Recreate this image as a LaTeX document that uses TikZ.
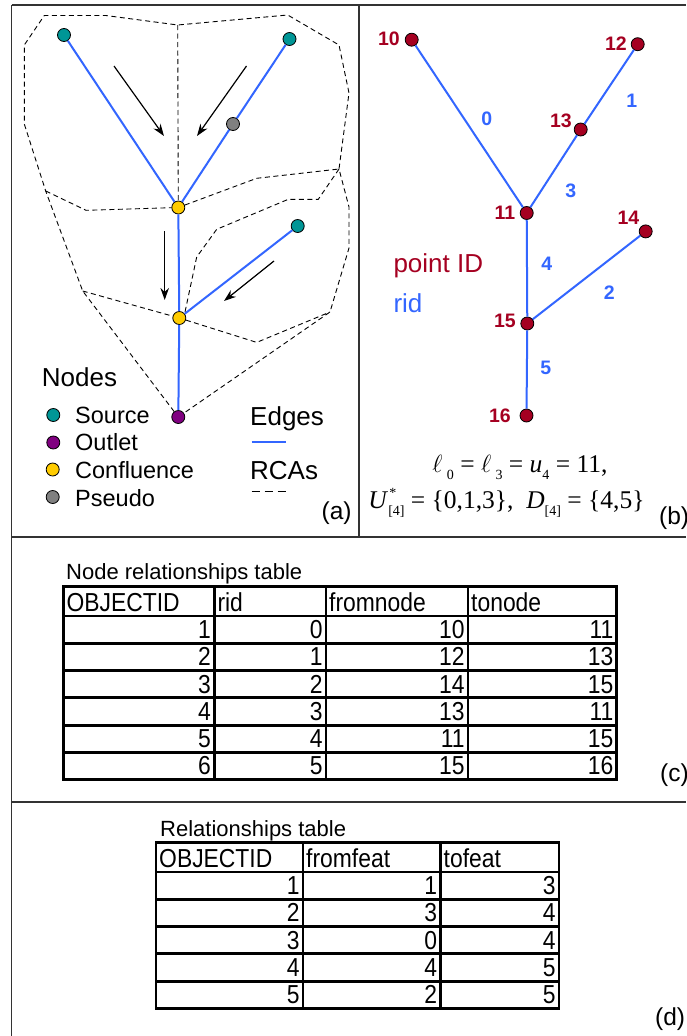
\documentclass[tikz,border=0pt]{standalone}
\usepackage[no-math]{fontspec}
\setmainfont{Liberation Sans}
\newfontfamily\narrowfont[FakeStretch=0.88]{Liberation Sans}
\newfontfamily\tms{Liberation Serif}
\usetikzlibrary{arrows.meta}
\definecolor{edgeblue}{RGB}{51,102,255}
\definecolor{srccol}{RGB}{0,150,150}
\definecolor{outcol}{RGB}{128,0,128}
\definecolor{confcol}{RGB}{255,204,0}
\definecolor{pseudocol}{RGB}{128,128,128}
\definecolor{ptred}{RGB}{165,0,33}
\newcommand\fsz[1]{\fontsize{#1}{#1}\selectfont}
\newcommand\sbs[1]{\raisebox{-0.28em}{\fontsize{14}{14}\selectfont #1}}
\newcommand\sps[1]{\raisebox{0.42em}{\fontsize{14}{14}\selectfont #1}}
\tikzset{
  dot/.style={circle, draw=black, line width=0.8pt, minimum size=13pt, inner sep=0pt},
  srcdot/.style={dot, fill=srccol},
  outdot/.style={dot, fill=outcol},
  confdot/.style={dot, fill=confcol},
  pseudodot/.style={dot, fill=pseudocol},
  ptdot/.style={dot, fill=ptred},
  edge/.style={draw=edgeblue, line width=2pt},
  rca/.style={draw=black, line width=0.9pt, dash pattern=on 5pt off 3.5pt},
  flow/.style={draw=black, line width=1.2pt, -{Stealth[length=12pt,width=8.5pt]}},
  ptlab/.style={text=ptred, font=\fsz{19.5}\bfseries, inner sep=0pt},
  ridlab/.style={text=edgeblue, font=\fsz{19.5}\bfseries, inner sep=0pt},
  frameline/.style={draw=black!80, line width=1.3pt},
  tbl/.style={draw=black, line width=2.8pt, line cap=rect},
  ttitle/.style={font=\fsz{22}, anchor=base west, inner sep=0pt},
  hdr/.style={font=\narrowfont\fsz{26}, anchor=base west, inner sep=0pt},
  cell/.style={font=\narrowfont\fsz{26}, anchor=base east, inner sep=0pt},
  legtext/.style={font=\fsz{23.5}, anchor=base west, inner sep=0pt},
  bigtext/.style={font=\fsz{26}, anchor=base west, inner sep=0pt},
  panellab/.style={font=\fsz{24.5}, anchor=west, inner sep=0pt},
  formula/.style={font=\tms\fsz{25.5}, anchor=base, inner sep=0pt}
}
\begin{document}
\begin{tikzpicture}[x=1pt,y=-1pt]
\useasboundingbox (0,0) rectangle (686,1036);
\clip (0,0) rectangle (686,1036);
\fill[white] (0,0) rectangle (686,1036);

% ---------- frame ----------
\draw[frameline] (11.5,5) -- (686,5);
\draw[frameline] (11.5,5) -- (11.5,1036);
\draw[frameline] (359,5) -- (359,537);
\draw[frameline] (11.5,537) -- (686,537);
\draw[frameline] (11.5,802) -- (686,802);

% ---------- panel (a) ----------
\node[srcdot] (s1) at (64,35) {};
\node[srcdot] (s2) at (289.5,39) {};
\node[pseudodot] (ps) at (233,124) {};
\node[confdot] (c1) at (178.3,207.5) {};
\node[srcdot] (s3) at (297.7,226) {};
\node[confdot] (c2) at (179.3,318) {};
\node[outdot] (ou) at (178.3,417) {};

% RCA boundaries
\coordinate (p1) at (24.3,45);
\coordinate (p2) at (44.3,15.5);
\coordinate (p3) at (105.7,15.5);
\coordinate (p4) at (177.7,25);
\coordinate (p5) at (287.7,15);
\coordinate (p6) at (339,45);
\coordinate (p7) at (349,93);
\coordinate (p8) at (339,169);
\coordinate (p9) at (349,207);
\coordinate (p10) at (349,248);
\coordinate (p11) at (330,312);
\coordinate (l1) at (24.3,124);
\coordinate (l2) at (45.7,191);
\coordinate (l3) at (82.7,291);
\coordinate (q1) at (86,210.3);
\coordinate (r1) at (256.7,178.3);
\coordinate (i1) at (318.3,199.3);
\coordinate (i2) at (288.3,199.3);
\coordinate (i3) at (216.7,229.3);
\coordinate (i4) at (196.7,257);
\coordinate (i5) at (185,312);
\coordinate (b1) at (256.7,342.4);
\draw[rca] (ou) -- (l3) -- (l2) -- (l1) -- (p1) -- (p2) -- (p3) -- (p4) -- (p5) -- (p6) -- (p7) -- (p8) -- (p9) -- (p10) -- (p11) -- (ou);
\draw[rca] (p4) -- (c1);
\draw[rca] (l2) -- (q1) -- (c1);
\draw[rca] (c1) -- (r1) -- (p8);
\draw[rca] (p8) -- (i1) -- (i2) -- (i3) -- (i4) -- (i5) -- (c2);
\draw[rca] (l3) -- (c2) -- (b1) -- (p11);

% edges
\draw[edge] (s1) -- (c1);
\draw[edge] (s2) -- (ps);
\draw[edge] (ps) -- (c1);
\draw[edge] (c1) -- (c2);
\draw[edge] (s3) -- (c2);
\draw[edge] (c2) -- (ou);

% flow arrows
\coordinate (a1s) at (114,66);   \coordinate (a1e) at (164,136);
\coordinate (a2s) at (246.5,66); \coordinate (a2e) at (197,136);
\coordinate (a3s) at (164.7,231); \coordinate (a3e) at (164.7,300);
\coordinate (a4s) at (274,261);  \coordinate (a4e) at (224,301);
\draw[flow] (a1s) -- (a1e);
\draw[flow] (a2s) -- (a2e);
\draw[flow] (a3s) -- (a3e);
\draw[flow] (a4s) -- (a4e);

% legend
\node[bigtext] (lnodes) at (41.7,386) {Nodes};
\node[srcdot] (lsrc) at (53.3,415) {};
\node[outdot] (lout) at (53.3,442.5) {};
\node[confdot] (lconf) at (52.7,469.5) {};
\node[pseudodot] (lps) at (52.7,497) {};
\node[legtext] (tsrc) at (75,423.3) {Source};
\node[legtext] (tout) at (75,450.7) {Outlet};
\node[legtext] (tconf) at (75,478.5) {Confluence};
\node[legtext] (tps) at (75,506.5) {Pseudo};
\node[bigtext] (ledges) at (250,425) {Edges};
\coordinate (le1) at (251.7,441.7); \coordinate (le2) at (286,441.7);
\draw[edge] (le1) -- (le2);
\node[bigtext] (lrca) at (250,479) {RCAs};
\coordinate (lr1) at (251.7,491.7); \coordinate (lr2) at (287,491.7);
\draw[draw=black, line width=1pt, dash pattern=on 8pt off 5pt] (lr1) -- (lr2);
\node[panellab] (laba) at (321.5,513) {(a)};

% ---------- panel (b) ----------
\node[ptdot] (n10) at (411.7,39.7) {};
\node[ptdot] (n12) at (637.7,44.2) {};
\node[ptdot] (n13) at (580.7,129.5) {};
\node[ptdot] (n11) at (526.7,213) {};
\node[ptdot] (n14) at (645.7,231.4) {};
\node[ptdot] (n15) at (527.3,323.5) {};
\node[ptdot] (n16) at (526.5,415.5) {};
\draw[edge] (n10) -- (n11);
\draw[edge] (n12) -- (n13);
\draw[edge] (n13) -- (n11);
\draw[edge] (n11) -- (n15);
\draw[edge] (n14) -- (n15);
\draw[edge] (n15) -- (n16);

\node[ptlab, anchor=east] (t10) at (400,38.5) {10};
\node[ptlab, anchor=east] (t12) at (627,44) {12};
\node[ptlab, anchor=east] (t13) at (572,121) {13};
\node[ptlab, anchor=east] (t11) at (515.5,213) {11};
\node[ptlab, anchor=east] (t14) at (639.5,217.5) {14};
\node[ptlab, anchor=east] (t15) at (516,320.5) {15};
\node[ptlab, anchor=east] (t16) at (511,415.5) {16};

\node[ridlab] (r0) at (486.7,119) {0};
\node[ridlab] (r1l) at (631.7,101) {1};
\node[ridlab] (r3) at (570.7,190.7) {3};
\node[ridlab] (r4) at (546.7,263.8) {4};
\node[ridlab] (r2) at (609.3,293) {2};
\node[ridlab] (r5) at (545.7,368.3) {5};

\node[bigtext, text=ptred] (tpid) at (393.3,272.4) {point ID};
\node[bigtext, text=edgeblue] (trid) at (393.3,312) {rid};

\node[formula] (f1) at (520,472.5) {$\ell$\,\sbs{0} = $\ell$\,\sbs{3} = \textit{u}\sbs{4} = 11,};
\node[formula] (f2) at (506.5,508) {\textit{U}\makebox[0pt][l]{\kern1pt\sps{*}}\sbs{[4]} = \{0,1,3\},\ \ \textit{D}\sbs{[4]} = \{4,5\}};
\node[panellab] (labb) at (659,518) {(b)};

% ---------- table (c) ----------
\node[ttitle] (ttc) at (66,579.7) {Node relationships table};
\foreach \x in {63.4,214.3,326,468,616.8}
  \draw[tbl] (\x,586.5) -- (\x,779.7);
\foreach \y in {586.5,615.9,643.2,670.5,697.8,725.1,752.4,779.7}
  \draw[tbl] (63.4,\y) -- (616.8,\y);
\foreach \xl/\t [count=\k] in {63.4/OBJECTID,214.3/rid,326/fromnode,468/tonode}
  \node[hdr] (ch\k) at (\xl+3,611) {\t};
\foreach \a/\b/\c/\d [count=\r] in {1/0/10/11,2/1/12/13,3/2/14/15,4/3/13/11,5/4/11/15,6/5/15/16} {
  \node[cell] (ca\r) at (211,615.9+27.3*\r-4.8) {\a};
  \node[cell] (cb\r) at (322.8,615.9+27.3*\r-4.8) {\b};
  \node[cell] (cc\r) at (464.8,615.9+27.3*\r-4.8) {\c};
  \node[cell] (cd\r) at (613.6,615.9+27.3*\r-4.8) {\d};
}
\node[panellab] (labc) at (660,775) {(c)};

% ---------- table (d) ----------
\node[ttitle] (ttd) at (160,836) {Relationships table};
\foreach \x in {156,303,440.5,559}
  \draw[tbl] (\x,842.5) -- (\x,1008.4);
\foreach \y in {842.5,871.9,899.2,926.5,953.8,981.1,1008.4}
  \draw[tbl] (156,\y) -- (559,\y);
\foreach \xl/\t [count=\k] in {156/OBJECTID,303/fromfeat,440.5/tofeat}
  \node[hdr] (dh\k) at (\xl+3,867) {\t};
\foreach \a/\b/\c [count=\r] in {1/1/3,2/3/4,3/0/4,4/4/5,5/2/5} {
  \node[cell] (da\r) at (299.8,871.9+27.3*\r-4.8) {\a};
  \node[cell] (db\r) at (437.3,871.9+27.3*\r-4.8) {\b};
  \node[cell] (dc\r) at (555.8,871.9+27.3*\r-4.8) {\c};
}
\node[panellab] (labd) at (655,1019) {(d)};
\end{tikzpicture}
\end{document}
